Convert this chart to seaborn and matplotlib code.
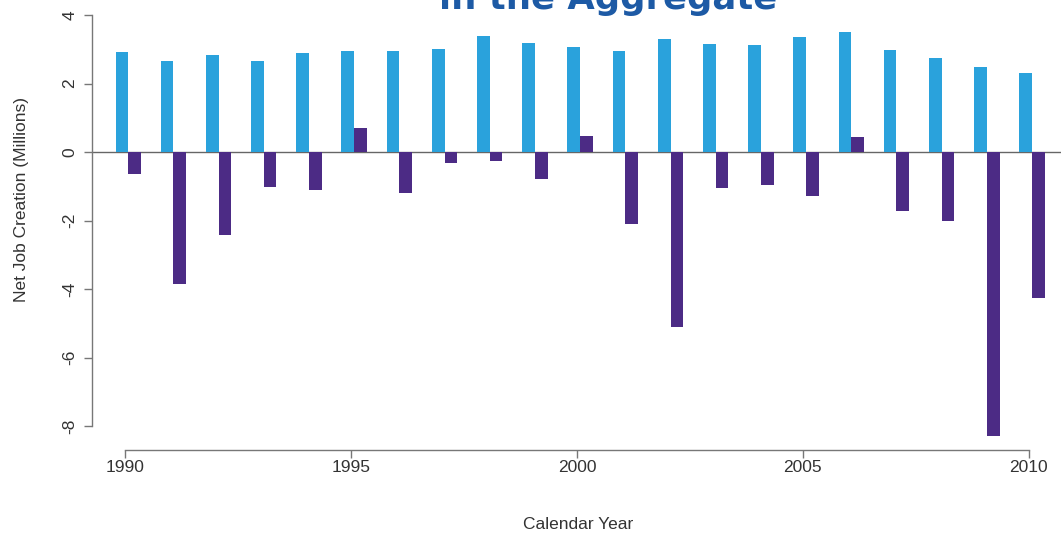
"""
Net job creation in the aggregate, 1990-2010.
Light blue: startups, purple: existing firms (millions of jobs).
"""

import pandas as pd
import matplotlib.pyplot as plt
import seaborn as sns

YEARS = list(range(1990, 2011))

STARTUPS = [2.92, 2.67, 2.82, 2.65, 2.90, 2.94, 2.96, 3.01, 3.40, 3.18, 3.08,
            2.95, 3.31, 3.16, 3.14, 3.37, 3.51, 2.98, 2.76, 2.47, 2.30]

EXISTING = [-0.65, -3.84, -2.43, -1.02, -1.10, 0.70, -1.21, -0.33, -0.25, -0.78, 0.47,
            -2.10, -5.10, -1.06, -0.95, -1.27, 0.45, -1.71, -2.00, -8.30, -4.26]

SERIES = ["Startups", "Existing firms"]
COLORS = {"Startups": "#2aa2dc", "Existing firms": "#4c2b85"}

X_TICKS = [1990, 1995, 2000, 2005, 2010]
Y_TICKS = [-8, -6, -4, -2, 0, 2, 4]

TITLE = "in the Aggregate"
X_LABEL = "Calendar Year"
Y_LABEL = "Net Job Creation (Millions)"

BAR_SHIFT = 0.07   # pair of bars sits slightly right of the year tick


def main():
    df = pd.DataFrame({
        "year": YEARS * 2,
        "series": [SERIES[0]] * len(YEARS) + [SERIES[1]] * len(YEARS),
        "value": STARTUPS + EXISTING,
    })
    df["pos"] = df["year"] + BAR_SHIFT

    sns.set_style("white")
    plt.rcParams["font.family"] = ["Liberation Sans", "DejaVu Sans"]

    fig = plt.figure(figsize=(10.61, 5.38), dpi=100)
    # axes placed in pixels: left 92, right 1061, top 0, bottom 450
    ax = fig.add_axes([92 / 1061, 1 - 450 / 538, 969 / 1061, 450 / 538])

    ax.axhline(0, color="#666666", lw=1.0, zorder=0)

    sns.barplot(
        data=df, x="pos", y="value", hue="series", hue_order=SERIES,
        palette=COLORS, native_scale=True, dodge=True, width=0.56,
        saturation=1, errorbar=None, legend=False, edgecolor="none", ax=ax,
    )

    ax.set_xlim(1989.27, 2010.71)
    ax.set_ylim(-8.70, 4.44)

    # ── R-style detached axes ─────────────────────────────────────────────────
    for side in ["top", "right"]:
        ax.spines[side].set_visible(False)
    for side in ["left", "bottom"]:
        ax.spines[side].set_color("#777777")
        ax.spines[side].set_linewidth(1.0)
    ax.spines["left"].set_bounds(-8, 4)
    ax.spines["bottom"].set_bounds(1990, 2010)

    ax.set_xticks(X_TICKS)
    ax.set_xticklabels([str(t) for t in X_TICKS])
    ax.set_yticks(Y_TICKS)
    ax.set_yticklabels([str(t) for t in Y_TICKS], rotation=90, va="center")
    ax.tick_params(axis="both", which="major", direction="out", length=6,
                   width=1.0, color="#777777", labelcolor="#333333",
                   labelsize=12.5, left=True, bottom=True)
    ax.tick_params(axis="y", pad=4.5)
    ax.tick_params(axis="x", pad=1.5)

    ax.set_xlabel(X_LABEL, fontsize=12.5, color="#333333")
    ax.set_ylabel(Y_LABEL, fontsize=12.5, color="#333333")
    ax.xaxis.set_label_coords(0.502, -0.149)
    ax.yaxis.set_label_coords(-0.065, 0.556)

    fig.text(608 / 1061, 1 - 9 / 538, TITLE, ha="center", va="baseline",
             fontsize=25.5, fontweight="bold", color="#1d5aa5",
             family="DejaVu Sans")

    fig.savefig("out.png", dpi=100)


if __name__ == "__main__":
    main()
